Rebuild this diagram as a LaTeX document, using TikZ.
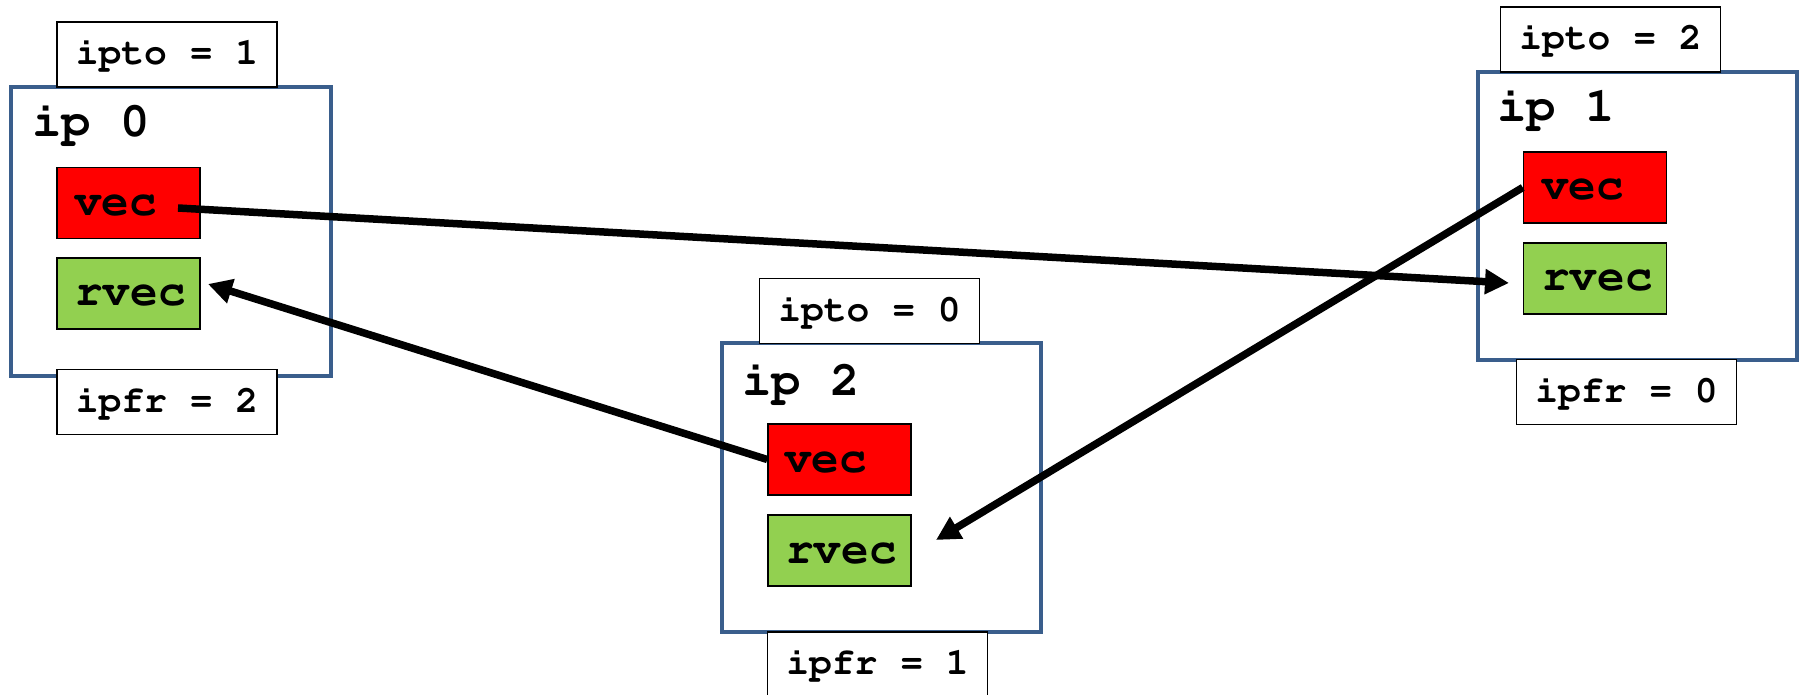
\documentclass[tikz,border=0pt]{standalone}
\usepackage[T1]{fontenc}
\usetikzlibrary{arrows.meta}
\definecolor{procblue}{RGB}{58,94,140}
\definecolor{vecred}{RGB}{255,0,0}
\definecolor{rvecgreen}{RGB}{146,208,80}
\newcommand{\cour}{\fontfamily{pcr}\bfseries}
\begin{document}
\begin{tikzpicture}[x=1pt,y=-1pt,
  proc/.style={draw=procblue,line width=4.5pt,fill=white,rectangle,inner sep=0pt},
  tagbox/.style={draw=black,line width=1.5pt,fill=white,rectangle,inner sep=0pt,
    minimum width=220pt,minimum height=65pt,
    font=\cour\fontsize{38}{38}\selectfont},
  iplabel/.style={anchor=base west,inner sep=0pt,
    font=\cour\fontsize{49}{49}\selectfont},
  buf/.style={draw=black,line width=1.5pt,rectangle,inner sep=0pt,
    minimum width=143pt,minimum height=71pt},
  vecbox/.style={buf,fill=vecred},
  rvecbox/.style={buf,fill=rvecgreen},
  buftext/.style={anchor=base west,inner sep=0pt,
    font=\cour\fontsize{46}{46}\selectfont},
  msg/.style={line width=7.5pt,-{Triangle[length=24pt,width=24pt]}}]
\useasboundingbox (0,0) rectangle (1803,695);
% process boxes
\node[proc,minimum width=320pt,minimum height=289pt] (ip0) at (171,231.5) {};
\node[proc,minimum width=319pt,minimum height=288pt] (ip1) at (1637.5,216) {};
\node[proc,minimum width=319pt,minimum height=289pt] (ip2) at (881.5,487.5) {};
% process labels
\node[iplabel] (ip0t) at (32,137) {ip 0};
\node[iplabel] (ip1t) at (1497,122) {ip 1};
\node[iplabel] (ip2t) at (742,395) {ip 2};
% buffers
\node[vecbox]  (vec0)  at (128.5,203)   {};
\node[rvecbox] (rvec0) at (128.5,293.5) {};
\node[vecbox]  (vec1)  at (1595,187.5)  {};
\node[rvecbox] (rvec1) at (1595,278.5)  {};
\node[vecbox]  (vec2)  at (839.5,459.5) {};
\node[rvecbox] (rvec2) at (839.5,550.5) {};
\node[buftext] (vec0t)  at (74,215)   {vec};
\node[buftext] (rvec0t) at (75,305)   {rvec};
\node[buftext] (vec1t)  at (1541,200) {vec};
\node[buftext] (rvec1t) at (1542,290) {rvec};
\node[buftext] (vec2t)  at (784,472)  {vec};
\node[buftext] (rvec2t) at (786,563)  {rvec};
% tags
\node[tagbox] (ipto1) at (167,54.5)    {ipto = 1};
\node[tagbox] (ipfr2) at (167,402)     {ipfr = 2};
\node[tagbox] (ipto2) at (1610.5,39.5) {ipto = 2};
\node[tagbox] (ipfr0) at (1626.5,392)  {ipfr = 0};
\node[tagbox] (ipto0) at (869.5,311)   {ipto = 0};
\node[tagbox] (ipfr1) at (877.5,664.5) {ipfr = 1};
% arrow end points
\coordinate (a1s) at (178,208);
\coordinate (a1e) at (1509,283);
\coordinate (a2e) at (208,284);
\coordinate (a3e) at (936,540);
% messages
\draw[msg] (a1s) -- (a1e);
\draw[msg] (vec2.west) -- (a2e);
\draw[msg] (vec1.west) -- (a3e);
\end{tikzpicture}
\end{document}
